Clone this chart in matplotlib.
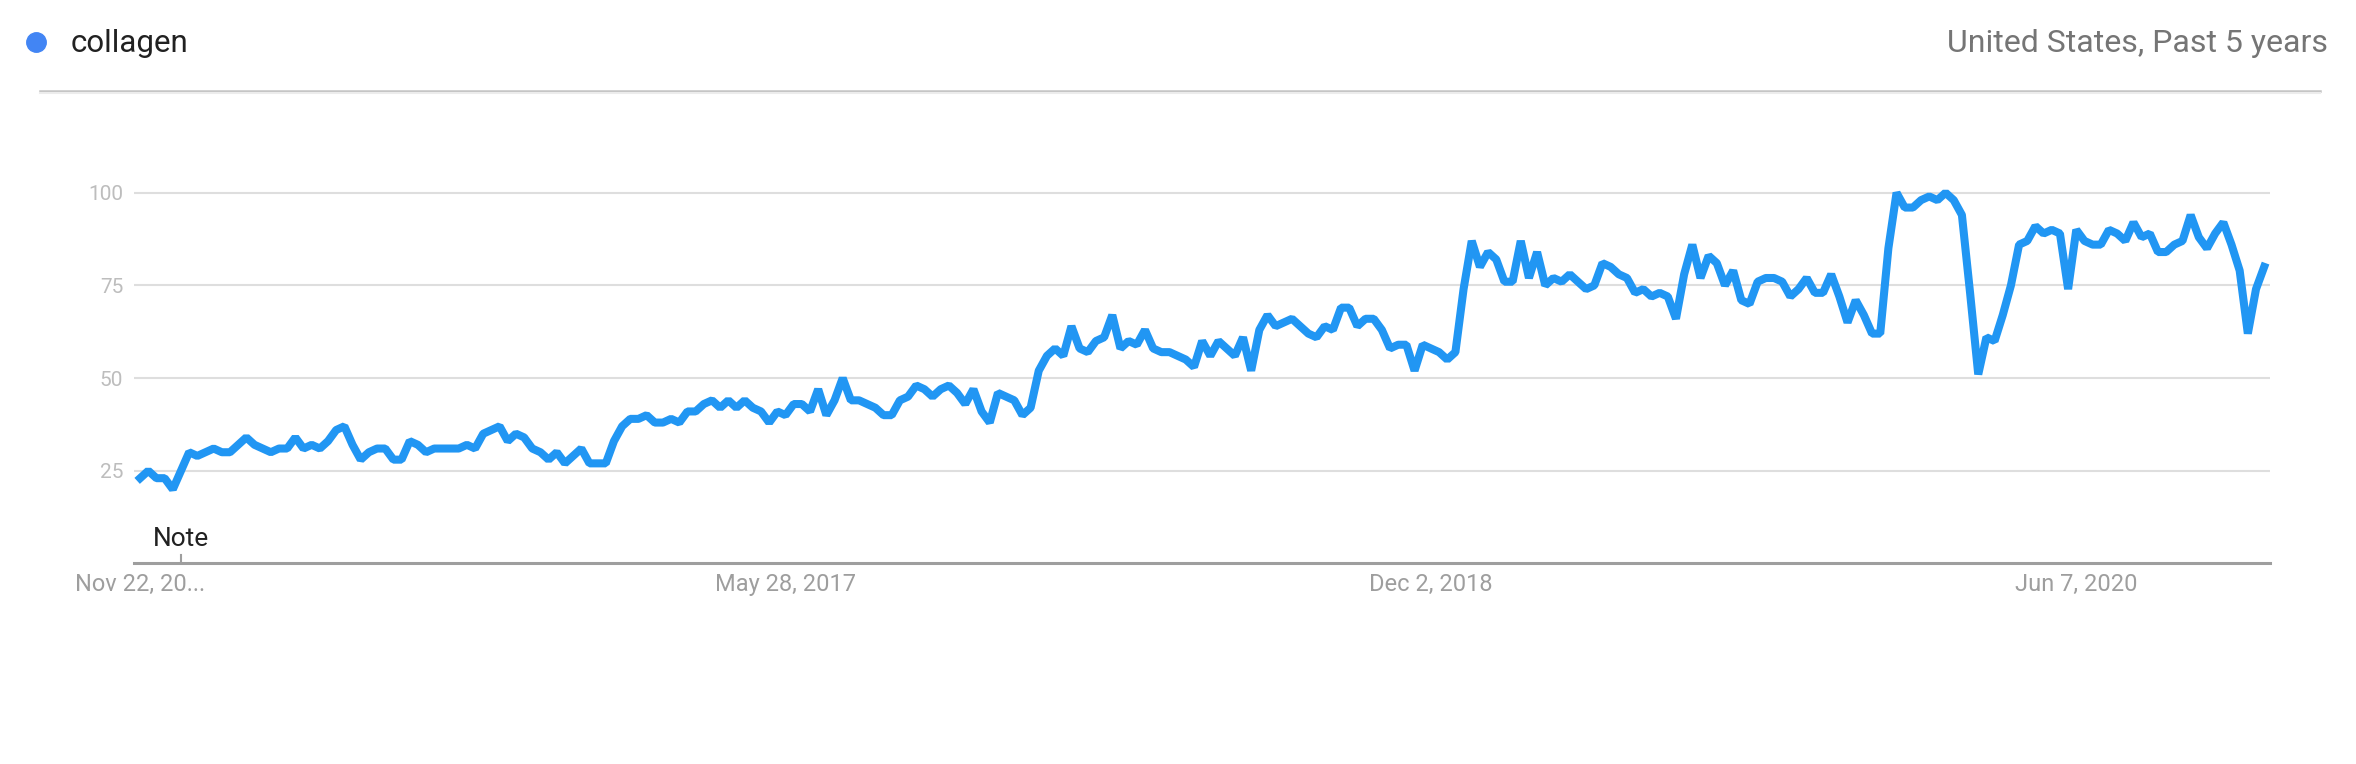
import pandas as pd
import matplotlib.pyplot as plt
from matplotlib.lines import Line2D

# Interesse semanal (Google Trends) para "collagen", EUA, ultimos 5 anos
start_date = "2015-11-22"
interest = [
    23, 25, 23, 23, 20, 25, 30, 29, 30, 31, 30, 30, 32, 34, 32, 31, 30, 31, 31, 34,
    31, 32, 31, 33, 36, 37, 32, 28, 30, 31, 31, 28, 28, 33, 32, 30, 31, 31, 31, 31,
    32, 31, 35, 36, 37, 33, 35, 34, 31, 30, 28, 30, 27, 29, 31, 27, 27, 27, 33, 37,
    39, 39, 40, 38, 38, 39, 38, 41, 41, 43, 44, 42, 44, 42, 44, 42, 41, 38, 41, 40,
    43, 43, 41, 47, 40, 44, 50, 44, 44, 43, 42, 40, 40, 44, 45, 48, 47, 45, 47, 48,
    46, 43, 47, 41, 38, 46, 45, 44, 40, 42, 52, 56, 58, 56, 64, 58, 57, 60, 61, 67,
    58, 60, 59, 63, 58, 57, 57, 56, 55, 53, 60, 56, 60, 58, 56, 61, 52, 63, 67, 64,
    65, 66, 64, 62, 61, 64, 63, 69, 69, 64, 66, 66, 63, 58, 59, 59, 52, 59, 58, 57,
    55, 57, 74, 87, 80, 84, 82, 76, 76, 87, 77, 84, 75, 77, 76, 78, 76, 74, 75, 81,
    80, 78, 77, 73, 74, 72, 73, 72, 66, 78, 86, 77, 83, 81, 75, 79, 71, 70, 76, 77,
    77, 76, 72, 74, 77, 73, 73, 78, 72, 65, 71, 67, 62, 62, 85, 100, 96, 96, 98, 99,
    98, 100, 98, 94, 73, 51, 61, 60, 67, 75, 86, 87, 91, 89, 90, 89, 74, 90, 87, 86,
    86, 90, 89, 87, 92, 88, 89, 84, 84, 86, 87, 94, 88, 85, 89, 92, 86, 79, 62, 74,
    80,
]
weeks = pd.date_range(start_date, periods=len(interest), freq="7D")

tick_dates = pd.to_datetime(["2015-11-22", "2017-05-28", "2018-12-02", "2020-06-07"])
tick_labels = ["Nov 22, 20...", "May 28, 2017", "Dec 2, 2018", "Jun 7, 2020"]
y_ticks = [25, 50, 75, 100]
note_date = pd.Timestamp("2015-12-27")

plt.rcParams['font.family'] = ['Roboto', 'DejaVu Sans']

fig = plt.figure(figsize=(23.56, 7.64), dpi=100)
ax = fig.add_axes([0.0570, 0.2625, 0.9065, 0.5095])

ax.plot(weeks, interest, color='#2196f3', linewidth=5.8,
        solid_joinstyle='bevel', clip_on=False, zorder=3)

# limites e eixos
ax.set_xlim(weeks[0] - pd.Timedelta(days=5), weeks[-1] + pd.Timedelta(days=5))
ax.set_ylim(0, 105)
ax.set_yticks(y_ticks)
ax.set_yticklabels([str(v) for v in y_ticks])
ax.set_xticks(tick_dates)
ax.set_xticklabels(tick_labels)
ax.tick_params(axis='y', length=0, pad=8, labelsize=15, labelcolor='#bdbdbd')
ax.tick_params(axis='x', length=0, pad=7, labelsize=17, labelcolor='#9e9e9e')
ax.grid(axis='y', color='#dedede', linewidth=1.5)
ax.set_axisbelow(True)
for side in ['top', 'right', 'left']:
    ax.spines[side].set_visible(False)
ax.spines['bottom'].set_color('#9e9e9e')
ax.spines['bottom'].set_linewidth(2.2)

# marca "Note"
ax.plot([note_date, note_date], [0, 2.2], color='#9e9e9e', linewidth=1.5, clip_on=False)
ax.text(note_date, 3.3, "Note", ha='center', va='bottom', fontsize=19, color='#212121')

# cabecalho
fig.add_artist(Line2D([0.0153], [0.945], marker='o', markersize=14, color='#4285f4',
                      linestyle='none', transform=fig.transFigure))
fig.text(0.0300, 0.932, "collagen", fontsize=22.5, color='#212121', va='baseline')
fig.text(0.9882, 0.932, "United States, Past 5 years", fontsize=23, color='#757575',
         ha='right', va='baseline')
fig.add_artist(Line2D([0.017, 0.9847], [0.881, 0.881], color='#c4c4c4', linewidth=1.8,
                      transform=fig.transFigure))
fig.add_artist(Line2D([0.017, 0.9847], [0.878, 0.878], color='#ececec', linewidth=1.5,
                      transform=fig.transFigure))

fig.savefig("out.png", dpi=100, facecolor='white')
